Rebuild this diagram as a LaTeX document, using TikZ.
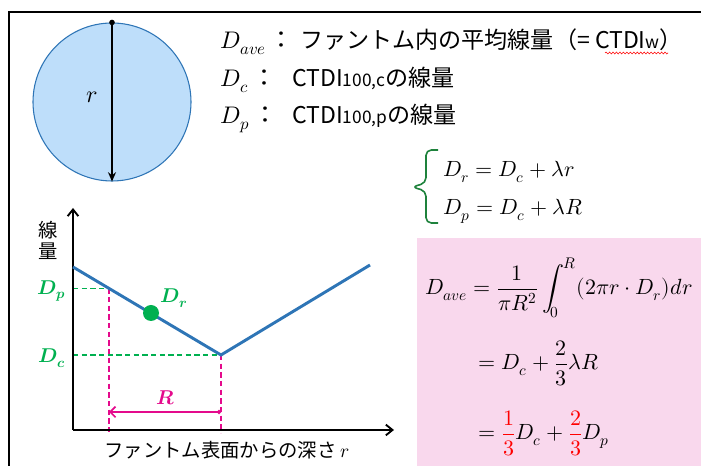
\documentclass[tikz,border=0pt]{standalone}
\usepackage{amsmath}
\usepackage{fontspec}
\usepackage{unicode-math}
\setmainfont{Noto Sans CJK JP}
\usepackage{tikz}
\usetikzlibrary{arrows.meta, decorations.pathmorphing}

\definecolor{phantomfill}{RGB}{190,222,250}
\definecolor{doseblue}{RGB}{46,117,182}
\definecolor{dosegreen}{RGB}{0,176,80}
\definecolor{bracegreen}{RGB}{30,130,60}
\definecolor{depthpink}{RGB}{228,10,140}
\definecolor{boxpink}{RGB}{249,216,237}

\begin{document}
\begin{tikzpicture}[
    x=0.75pt, y=-0.75pt,
    lbl/.style={inner sep=0pt, anchor=base west},
    guide/.style={dashed, dash pattern=on 4pt off 2.5pt, line width=1.1pt},
    axis/.style={-{Straight Barb[length=5pt, width=8pt]}, line width=1.4pt},
    dlabel/.style={inner sep=0pt, font=\fontsize{15}{17}\selectfont, text=dosegreen},
    font=\fontsize{17.3}{21}\selectfont
]
    \useasboundingbox (0,0) rectangle (701,466);

    % --- FRAME ---
    \draw[line width=1.5pt] (9,466) -- (9,12) -- (701,12);
    \fill[boxpink] (417,238) rectangle (701,466);

    % --- PHANTOM ---
    \node[circle, draw=doseblue, fill=phantomfill, line width=0.8pt, minimum size=118.5pt, inner sep=0pt] (phantom) at (112,102) {};
    \fill (phantom.north) circle[radius=2.8];
    \draw[line width=1.2pt, -{Stealth[length=7pt, width=6pt]}] (phantom.north) -- (phantom.south);
    \node[font=\fontsize{18}{22}\selectfont] (rlab) at (92,97) {$r$};

    % --- LEGEND ---
    \begin{scope}[font=\fontsize{18}{22}\selectfont]
        \node[lbl] (kave) at (220,49) {$D_{ave}$\,：};
        \node[lbl] (kc) at (220,87) {$D_c$\,：};
        \node[lbl] (kp) at (220,124) {$D_p$\,：};
    \end{scope}
    \node[lbl] (tave) at (300,49) {ファントム内の平均線量（= CTDI{\fontsize{13}{13}\selectfont w}）};
    \draw[red, line width=0.4pt, decorate, decoration={snake, amplitude=0.7pt, segment length=2.6pt}] (605,53) -- (668,53);
    \node[lbl] (tc) at (292,87) {CTDI{\fontsize{13}{13}\selectfont 100,c}の線量};
    \node[lbl] (tp) at (292,124) {CTDI{\fontsize{13}{13}\selectfont 100,p}の線量};

    % --- DOSE PROFILE ---
    \coordinate (O) at (73,430);
    \coordinate (ytip) at (73,208);
    \coordinate (xtip) at (394,430);
    \coordinate (L) at (73,267);
    \coordinate (V) at (221,355);
    \coordinate (Rt) at (370,265);
    \coordinate (P) at (109,288.4);
    \coordinate (Pax) at (73,288.4);
    \coordinate (Vax) at (73,355);
    \coordinate (Pbot) at (109,433);
    \coordinate (Vbot) at (221,433);
    \coordinate (Ra) at (221,412);
    \coordinate (Rb) at (109,412);

    \draw[guide, depthpink] (P) -- (Pbot);
    \draw[guide, depthpink] (V) -- (Vbot);
    \draw[guide, dosegreen] (Pax) -- (P);
    \draw[guide, dosegreen] (Vax) -- (V);
    \draw[axis] (O) -- (ytip);
    \draw[axis] (O) -- (xtip);
    \draw[doseblue, line width=2.2pt] (L) -- (V) -- (Rt);
    \draw[depthpink, line width=1.3pt, {Straight Barb[length=4pt, width=8pt]}-{Circle[length=3pt]}] (Rb) -- (Ra);
    \node[circle, fill=dosegreen, minimum size=12pt, inner sep=0pt] (Dr) at (151,313) {};

    \node[align=center, inner sep=0pt, font=\fontsize{14.5}{15.75}\selectfont] (ylab) at (48,240) {線\\量};
    \node[inner sep=0pt, font=\fontsize{14.5}{17}\selectfont] (xlab) at (227,450) {ファントム表面からの深さ $r$};
    \node[dlabel] (lDp) at (52,291) {$\symbfit{D}_{\symbfit{p}}$};
    \node[dlabel] (lDc) at (52,358) {$\symbfit{D}_{\symbfit{c}}$};
    \node[dlabel] (lDr) at (174,298) {$\symbfit{D}_{\symbfit{r}}$};
    \node[inner sep=0pt, font=\fontsize{15}{17}\selectfont, text=depthpink] (lR) at (166,398) {$\symbfit{R}$};

    % --- RELATIONS ---
    \draw[bracegreen, line width=1.2pt, rounded corners=4pt] (438,150) -- (426,150) -- (426,183) -- (412,187) -- (426,191) -- (426,223) -- (438,223);
    \begin{scope}[font=\fontsize{16.5}{19}\selectfont]
        \node[lbl] (eqr) at (443,177) {$D_r=D_c+\lambda r$};
        \node[lbl] (eqp) at (443,215) {$D_p=D_c+\lambda R$};
        \node[lbl] (eqave) at (425,295) {$\displaystyle D_{ave}=\frac{1}{\pi R^2}\int_0^R(2\pi r\cdot D_r)dr$};
        \node[lbl] (eqmid) at (478,370) {$\displaystyle =D_c+\frac{2}{3}\lambda R$};
        \node[lbl] (eqend) at (478,440) {$\displaystyle =\textcolor{red}{\frac{1}{3}}D_c+\textcolor{red}{\frac{2}{3}}D_p$};
    \end{scope}
\end{tikzpicture}
\end{document}
